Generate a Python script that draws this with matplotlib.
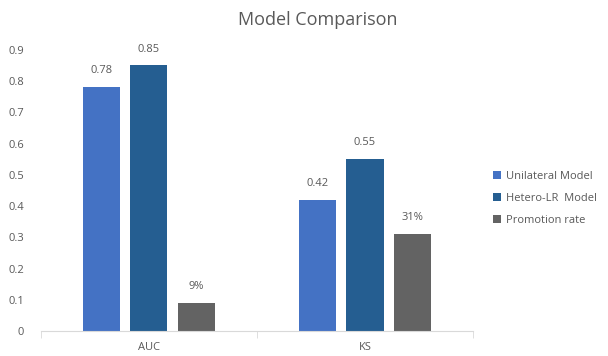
import matplotlib.pyplot as plt
import numpy as np

plt.rcParams['font.family'] = ['Open Sans', 'DejaVu Sans']

categories = ['AUC', 'KS']
series = ['Unilateral Model', 'Hetero-LR  Model', 'Promotion rate']
values = [[0.78, 0.42], [0.85, 0.55], [0.09, 0.31]]
labels = [['0.78', '0.42'], ['0.85', '0.55'], ['9%', '31%']]
colors = ['#4472C4', '#255E91', '#636363']

fig = plt.figure(figsize=(6.08, 3.56), dpi=100)
ax = fig.add_axes([0.067, 0.070, 0.711, 0.790])

x = np.arange(len(categories))
w = 0.172
step = 0.219
for i, (name, vals) in enumerate(zip(series, values)):
    pos = x + (i - 1) * step
    ax.bar(pos, vals, width=w, color=colors[i], label=name)
    for p, v, t in zip(pos, vals, labels[i]):
        ax.text(p, v + 0.035, t, ha='center', va='bottom', fontsize=8, color='#595959')

ax.set_xlim(-0.5, 1.5)
ax.set_ylim(0, 0.9)
ax.set_yticks(np.arange(0, 0.91, 0.1))
ax.set_yticklabels(['0'] + ['%.1f' % v for v in np.arange(0.1, 0.91, 0.1)])
ax.set_xticks(x)
ax.set_xticklabels(categories)
ax.set_xticks([-0.5, 0.5, 1.5], minor=True)
ax.tick_params(axis='x', which='major', length=0, pad=8, labelsize=8, labelcolor='#595959')
ax.tick_params(axis='x', which='minor', length=5, color='#d9d9d9')
ax.tick_params(axis='y', length=0, pad=12, labelsize=8, labelcolor='#595959')
for s in ['top', 'right', 'left']:
    ax.spines[s].set_visible(False)
ax.spines['bottom'].set_color('#d9d9d9')

fig.text(0.523, 0.945, 'Model Comparison', ha='center', va='center', fontsize=13, color='#595959')
fig.legend(loc='center left', bbox_to_anchor=(0.795, 0.443), frameon=False,
           fontsize=8, labelcolor='#595959', handlelength=0.7, handleheight=0.7,
           handletextpad=0.4, labelspacing=1.0)

fig.savefig('out.png', dpi=100)
